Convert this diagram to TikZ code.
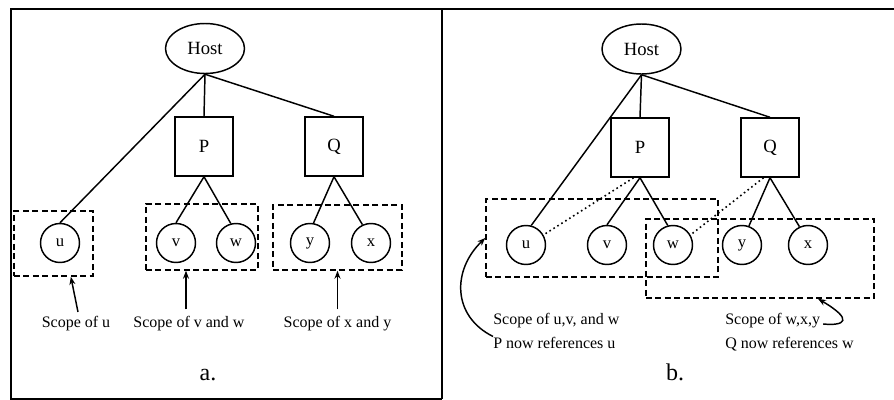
\documentclass[tikz,border=0pt]{standalone}
\usepackage{fontspec}
\setmainfont{Liberation Serif}
\usetikzlibrary{shapes.geometric,fit,arrows.meta}

\begin{document}
\begin{tikzpicture}[x=0.75pt,y=-0.75pt,
  every node/.style={font=\fontsize{12}{14}\selectfont},
  host/.style={draw, ellipse, line width=1.1pt, minimum width=59.25pt, minimum height=37.5pt, inner sep=0pt, font=\fontsize{14}{16}\selectfont},
  proc/.style={draw, rectangle, line width=1.1pt, minimum width=43.5pt, minimum height=44.25pt, inner sep=0pt, font=\fontsize{14}{16}\selectfont},
  var/.style={draw, circle, line width=1.1pt, minimum size=29.25pt, inner sep=0pt, font=\fontsize{12.5}{14}\selectfont},
  scopebox/.style={draw, dash pattern=on 4.5pt off 2.6pt, line width=1.1pt, inner sep=0pt},
  link/.style={line width=1.1pt},
  reflink/.style={line width=1.2pt, dash pattern=on 1.2pt off 2.3pt},
  pointer/.style={line width=1.1pt, -{Stealth[length=6pt,width=4.5pt]}},
  caption/.style={inner sep=0pt, anchor=base},
  panel/.style={line width=1.2pt}
]
\useasboundingbox (0,0) rectangle (894,400);

% panel frames
\draw[panel] (894,9) -- (11,9) -- (11,399) -- (442,399);
\draw[panel] (442,9) -- (442,399);

% ---------- panel a ----------
\node[host] (hA) at (205,48.5) {Host};
\node[proc] (pA) at (204,146.5) {P};
\node[proc] (qA) at (334,146.5) {Q};
\node[var] (uA) at (60,243) {u};
\node[var] (vA) at (176,243) {v};
\node[var] (wA) at (236,243) {w};
\node[var] (yA) at (310,243) {y};
\node[var] (xA) at (371,243) {x};

\draw[link] (hA.south) -- (pA.north);
\draw[link] (hA.south) -- (qA.north);
\draw[link] (hA.south) -- (uA.north);
\draw[link] (pA.south) -- (vA.north);
\draw[link] (pA.south) -- (wA.105);
\draw[link] (qA.south) -- (yA.80);
\draw[link] (qA.south) -- (xA.115);

\node[scopebox, fit={(14,211) (93,276)}] (sU) {};
\node[scopebox, fit={(146,204) (258,270)}] (sVW) {};
\node[scopebox, fit={(273,205) (402,270)}] (sXY) {};

\node[caption] (lU) at (76,327.5) {Scope of u};
\node[caption] (lVW) at (189,327.5) {Scope of v and w};
\node[caption] (lXY) at (337.5,327.5) {Scope of x and y};

\draw[pointer] ([xshift=1.5pt,yshift=3pt]lU.north) -- ([xshift=13pt]sU.south);
\draw[pointer] ([xshift=-2.25pt,yshift=5pt]lVW.north) -- ([xshift=-2.25pt]lVW.north |- sVW.south);
\draw[pointer] ([yshift=5pt]lXY.north) -- (lXY.north |- sXY.south);

\node[caption, font=\fontsize{18}{20}\selectfont] (capA) at (208,380) {a.};

% ---------- panel b ----------
\node[host] (hB) at (641.5,49) {Host};
\node[proc] (pB) at (640,147.5) {P};
\node[proc] (qB) at (770,147.5) {Q};
\node[var] (uB) at (526,245) {u};
\node[var] (vB) at (607,245) {v};
\node[var] (wB) at (673,245) {w};
\node[var] (yB) at (742,245) {y};
\node[var] (xB) at (808,245) {x};

\draw[link] (hB.south) -- (pB.north);
\draw[link] (hB.south) -- (qB.north);
\draw[link] (hB.south) -- (uB.75);
\draw[link] (pB.south) -- (vB.north);
\draw[link] (pB.south) -- (wB.105);
\draw[link] (qB.south) -- (yB.70);
\draw[link] (qB.south) -- (xB.115);
\draw[reflink] (pB.-102) -- (uB.30);
\draw[reflink] (qB.-102) -- (wB.30);

\node[scopebox, fit={(486,199) (718,277)}] (sUVW) {};
\node[scopebox, fit={(646,219) (874,298)}] (sWXY) {};

\node[caption, anchor=base west] (lUVW) at (493,324) {Scope of u,v, and w};
\node[caption, anchor=base west] (lP) at (493,348) {P now references u};
\node[caption, anchor=base west] (lWXY) at (725,324) {Scope of w,x,y};
\node[caption, anchor=base west] (lQ) at (725,348) {Q now references w};

\draw[pointer] (lP.north west) .. controls (452,316) and (452,270) .. (sUVW.west);
\draw[pointer] ([xshift=2pt]lWXY.base east) .. controls (845,326) and (854,320) .. ([xshift=43.5pt]sWXY.south);

\node[caption, font=\fontsize{18}{20}\selectfont] (capB) at (675,380) {b.};
\end{tikzpicture}
\end{document}
